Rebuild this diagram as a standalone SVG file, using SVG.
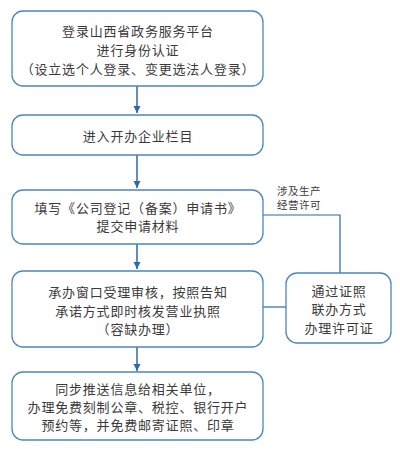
<svg xmlns="http://www.w3.org/2000/svg" width="400" height="450" viewBox="0 0 400 450">
<style>
.box{fill:#fff;stroke:#4a86c0;stroke-width:1.3}
.t{font-family:"Noto Sans CJK SC","Noto Sans",sans-serif;font-size:13px;fill:#3a3a3a;text-anchor:middle;letter-spacing:0.8px}
.s{font-family:"Noto Sans CJK SC","Noto Sans",sans-serif;font-size:10.5px;fill:#3a3a3a;letter-spacing:0.5px}
.c{fill:none;stroke:#2a6aa8;stroke-width:1.5}
.l{fill:none;stroke:#2a6aa8;stroke-width:1.2}
</style>
<defs>
<marker id="ah" markerWidth="8" markerHeight="8" refX="7" refY="4" orient="auto" markerUnits="userSpaceOnUse">
<path d="M0,0.5 L7,4 L0,7.5 Z" fill="#2a6aa8"/>
</marker>
</defs>
<rect width="400" height="450" fill="#fff"/>
<g id="connectors">
<line class="c" x1="137" y1="86" x2="137" y2="113" marker-end="url(#ah)"/>
<line class="c" x1="137" y1="155" x2="137" y2="188" marker-end="url(#ah)"/>
<line class="c" x1="137" y1="244" x2="137" y2="269" marker-end="url(#ah)"/>
<line class="c" x1="137" y1="347" x2="137" y2="371" marker-end="url(#ah)"/>
<polyline class="l" points="263,215 340,215 340,273"/>
<line class="l" x1="263" y1="307" x2="286" y2="307"/>
<text class="s" x="277" y="195">涉及生产</text>
<text class="s" x="277" y="209">经营许可</text>
</g>
<g id="n1">
<rect class="box" x="12" y="11" width="251" height="75" rx="11"/>
<text class="t" x="138" y="36">登录山西省政务服务平台</text>
<text class="t" x="138" y="55">进行身份认证</text>
<text class="t" x="138" y="74">（设立选个人登录、变更选法人登录）</text>
</g>
<g id="n2">
<rect class="box" x="12" y="115" width="251" height="40" rx="11"/>
<text class="t" x="138" y="141">进入开办企业栏目</text>
</g>
<g id="n3">
<rect class="box" x="12" y="190" width="251" height="54" rx="11"/>
<text class="t" x="138" y="213">填写《公司登记（备案）申请书》</text>
<text class="t" x="138" y="231">提交申请材料</text>
</g>
<g id="n4">
<rect class="box" x="12" y="271" width="251" height="76" rx="11"/>
<text class="t" x="138" y="297">承办窗口受理审核，按照告知</text>
<text class="t" x="138" y="316">承诺方式即时核发营业执照</text>
<text class="t" x="138" y="334">（容缺办理）</text>
</g>
<g id="n5">
<rect class="box" x="286" y="273" width="105" height="70" rx="11"/>
<text class="t" x="339" y="296">通过证照</text>
<text class="t" x="339" y="314">联办方式</text>
<text class="t" x="339" y="333">办理许可证</text>
</g>
<g id="n6">
<rect class="box" x="12" y="372" width="251" height="68" rx="11"/>
<text class="t" x="138" y="394">同步推送信息给相关单位，</text>
<text class="t" x="138" y="412">办理免费刻制公章、税控、银行开户</text>
<text class="t" x="138" y="430">预约等，并免费邮寄证照、印章</text>
</g>
</svg>
